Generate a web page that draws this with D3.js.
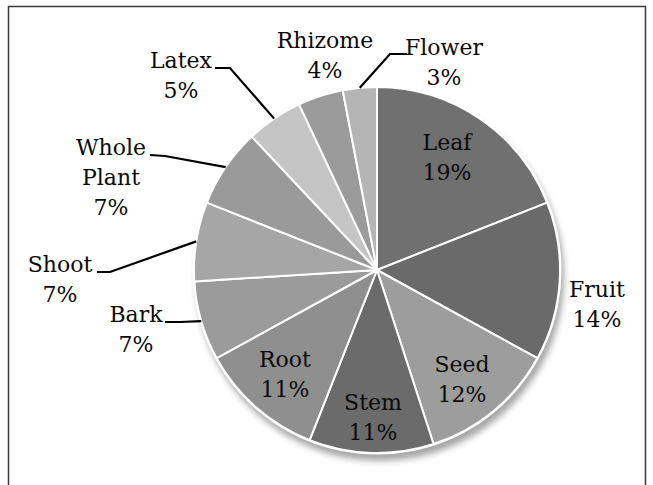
<!DOCTYPE html>
<html>
<head>
<meta charset="utf-8">
<script src="https://cdn.jsdelivr.net/npm/d3@7"></script>
<style>
  html, body { margin: 0; padding: 0; background: #fff; }
  svg { display: block; }
</style>
</head>
<body>
<svg id="chart" width="653" height="485"></svg>
<script>
// ---- data ----
const categories = ["Leaf", "Fruit", "Seed", "Stem", "Root", "Bark", "Shoot", "Whole Plant", "Latex", "Rhizome", "Flower"];
const values = [19, 14, 12, 11, 11, 7, 7, 7, 5, 4, 3];
const percentLabels = ["19%", "14%", "12%", "11%", "11%", "7%", "7%", "7%", "5%", "4%", "3%"];

// ---- styles / layout ----
const palette = ["#707070", "#6a6a6a", "#9d9d9d", "#6b6b6b", "#8f8f8f", "#9b9b9b", "#a6a6a6", "#9a9a9a", "#c5c5c5", "#9b9b9b", "#b5b5b5"];
const labelLines = [["Leaf"], ["Fruit"], ["Seed"], ["Stem"], ["Root"], ["Bark"], ["Shoot"], ["Whole", "Plant"], ["Latex"], ["Rhizome"], ["Flower"]];
// label anchor (center x, first baseline y) relative to the pie center
const labelOffset = [[70, -120], [220, 27], [85, 102], [-4, 140], [-92, 97], [-241, 52], [-317, 2], [-266, -115], [-196, -202], [-52, -222], [67, -215]];
// leader lines: [textEndX, textEndY, elbowX, elbowY] relative to center, or null
const leaderPts = [null, null, null, null, null, [-212, 52, -197, 52], [-280, 2, -267, 2], [-227, -115, -212, -114], [-162, -202, -147, -202], null, [30, -216, 13, -216]];

const FONT = "'DejaVu Serif', serif";
const FSIZE = 22;
const W = 653, H = 485;
const cx = 377, cy = 270, R = 183;
const lineH = 30;

const svg = d3.select("#chart");

// frame
svg.append("rect")
  .attr("x", 8.5).attr("y", 6.5).attr("width", 637).attr("height", 500)
  .attr("fill", "#fff").attr("stroke", "#3a3a3a").attr("stroke-width", 1.5);

const defs = svg.append("defs");
const f = defs.append("filter").attr("id", "shadow").attr("x", "-20%").attr("y", "-20%").attr("width", "140%").attr("height", "140%");
f.append("feGaussianBlur").attr("stdDeviation", 3);

const g = svg.append("g").attr("transform", `translate(${cx},${cy})`);

const color = d3.scaleOrdinal().domain(categories).range(palette);

const pie = d3.pie().value(d => d.value).sort(null);
const arcs = pie(categories.map((c, i) => ({ cat: c, value: values[i], i })));
const arc = d3.arc().innerRadius(0).outerRadius(R);

// shadow
g.append("circle")
  .attr("cx", 3).attr("cy", 7).attr("r", R + 1)
  .attr("fill", "#8a8a8a").attr("opacity", 0.75)
  .attr("filter", "url(#shadow)");
g.append("circle").attr("r", R + 1.5).attr("fill", "#fff");

g.selectAll("path.slice")
  .data(arcs)
  .join("path")
  .attr("class", "slice")
  .attr("d", arc)
  .attr("fill", d => color(d.data.cat))
  .attr("stroke", "#fff")
  .attr("stroke-width", 2)
  .attr("stroke-linejoin", "round");

// leader lines
arcs.forEach((d, i) => {
  const lp = leaderPts[i];
  if (!lp) return;
  const mid = (d.startAngle + d.endAngle) / 2;
  const ex = R * Math.sin(mid), ey = -R * Math.cos(mid);
  g.append("polyline")
    .attr("points", `${lp[0]},${lp[1]} ${lp[2]},${lp[3]} ${ex},${ey}`)
    .attr("fill", "none")
    .attr("stroke", "#000")
    .attr("stroke-width", 2.2);
});

// labels
arcs.forEach((d, i) => {
  const [ox, oy] = labelOffset[i];
  const lines = labelLines[i].concat([percentLabels[i]]);
  const t = g.append("text")
    .attr("text-anchor", "middle")
    .style("font-family", FONT)
    .style("font-size", FSIZE + "px")
    .attr("fill", "#0a0a0a");
  lines.forEach((ln, k) => {
    t.append("tspan").attr("x", ox).attr("y", oy + k * lineH).text(ln);
  });
});
</script>
</body>
</html>
